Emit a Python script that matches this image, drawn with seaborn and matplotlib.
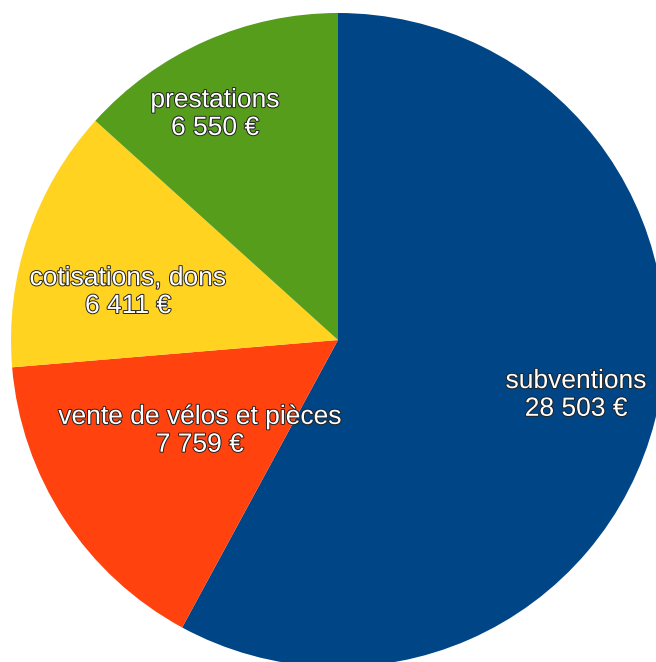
import numpy as np
import seaborn as sns
import matplotlib.pyplot as plt
import matplotlib.patheffects as pe

# données
categories = ['subventions', 'vente de vélos et pièces', 'cotisations, dons', 'prestations']
valeurs = [28503, 7759, 6411, 6550]
textes_valeurs = ['28 503 €', '7 759 €', '6 411 €', '6 550 €']

# style
sns.set_style('white')
plt.rcParams['font.family'] = ['Liberation Sans', 'DejaVu Sans']
couleurs = sns.color_palette(['#004586', '#ff420e', '#ffd320', '#579d1c'])
# placement des étiquettes (distance au centre, décalage angulaire en degrés)
distances = [0.746, 0.502, 0.660, 0.792]
decalages = [1.7, -0.4, 5.3, 4.4]

W, H = 656, 662
cx, cy, r = 338, 340, 327

fig = plt.figure(figsize=(W / 100, H / 100), dpi=100)
ax = fig.add_axes([0, 0, 1, 1])

wedges, _ = ax.pie(valeurs, colors=couleurs, startangle=90, counterclock=False,
                   radius=1, wedgeprops=dict(linewidth=0))

ax.set_aspect('auto')
ax.set_xlim(-cx / r, (W - cx) / r)
ax.set_ylim(-(H - cy) / r, cy / r)
ax.axis('off')

for w, cat, txt, d, off in zip(wedges, categories, textes_valeurs, distances, decalages):
    ang = np.deg2rad((w.theta1 + w.theta2) / 2 + off)
    ax.text(d * np.cos(ang), d * np.sin(ang) - 0.006, f'{cat}\n{txt}',
            ha='center', va='center', fontsize=19, color='white', linespacing=1.2,
            path_effects=[pe.withStroke(linewidth=1.4, foreground='#222222')])

fig.savefig('out.png', dpi=100)
plt.close(fig)
